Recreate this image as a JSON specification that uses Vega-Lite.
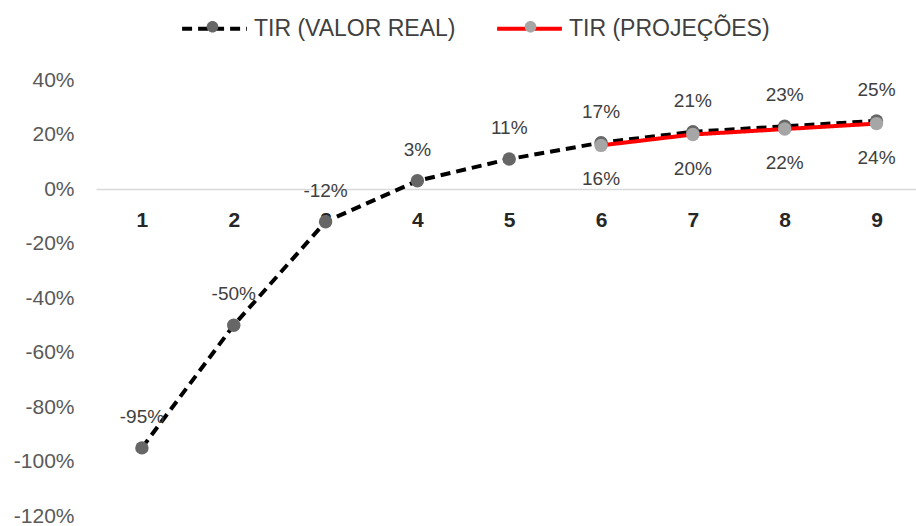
{
  "$schema": "https://vega.github.io/schema/vega-lite/v6.json",
  "autosize": {"type": "none"},
  "width": 820,
  "height": 436,
  "padding": {"left": 96, "top": 80, "right": 0, "bottom": 10},
  "background": "white",
  "config": {
    "view": {"stroke": null},
    "font": "Liberation Sans, Arial, sans-serif",
    "locale": {"number": {"decimal": ".", "thousands": ",", "grouping": [3], "currency": ["$", ""], "minus": "-", "percent": "%"}}
  },
  "data": {"values": [
    {"x": 1, "v": -0.95, "series": "TIR (VALOR REAL)"},
    {"x": 2, "v": -0.50, "series": "TIR (VALOR REAL)"},
    {"x": 3, "v": -0.12, "series": "TIR (VALOR REAL)"},
    {"x": 4, "v": 0.03, "series": "TIR (VALOR REAL)"},
    {"x": 5, "v": 0.11, "series": "TIR (VALOR REAL)"},
    {"x": 6, "v": 0.17, "series": "TIR (VALOR REAL)"},
    {"x": 7, "v": 0.21, "series": "TIR (VALOR REAL)"},
    {"x": 8, "v": 0.23, "series": "TIR (VALOR REAL)"},
    {"x": 9, "v": 0.25, "series": "TIR (VALOR REAL)"},
    {"x": 6, "v": 0.16, "series": "TIR (PROJEÇÕES)"},
    {"x": 7, "v": 0.20, "series": "TIR (PROJEÇÕES)"},
    {"x": 8, "v": 0.22, "series": "TIR (PROJEÇÕES)"},
    {"x": 9, "v": 0.24, "series": "TIR (PROJEÇÕES)"}
  ]},
  "encoding": {
    "x": {"field": "x", "type": "quantitative",
      "scale": {"domain": [0.5, 9.43], "nice": false, "zero": false},
      "axis": {"values": [1,2,3,4,5,6,7,8,9], "format": "d", "title": null, "grid": false, "ticks": false,
        "offset": -327, "domainColor": "#d9d9d9", "domainWidth": 1.5,
        "labelFontSize": 21, "labelFontWeight": "bold", "labelColor": "#262626", "labelPadding": 20}},
    "y": {"field": "v", "type": "quantitative",
      "scale": {"domain": [-1.2, 0.4], "nice": false},
      "axis": {"values": [-1.2,-1.0,-0.8,-0.6,-0.4,-0.2,0,0.2,0.4], "format": ".0%", "title": null, "grid": false,
        "ticks": false, "domain": false, "labelFontSize": 21, "labelColor": "#595959", "labelPadding": 22}}
  },
  "layer": [
    {
      "mark": {"type": "line", "strokeWidth": 4},
      "encoding": {
        "color": {"field": "series", "type": "nominal",
          "scale": {"domain": ["TIR (VALOR REAL)", "TIR (PROJEÇÕES)"], "range": ["#000000", "#ff0000"]},
          "legend": {"title": null, "orient": "none", "legendX": 84, "legendY": -86, "direction": "horizontal",
            "symbolType": "M-1,0 L1,0",
            "symbolSize": 4200, "symbolStrokeWidth": 4, "labelFontSize": 23, "labelColor": "#404040",
            "labelOffset": 5, "labelLimit": 0, "columnPadding": 33},
          "sort": ["TIR (VALOR REAL)", "TIR (PROJEÇÕES)"]},
        "strokeDash": {"field": "series", "type": "nominal",
          "scale": {"domain": ["TIR (VALOR REAL)", "TIR (PROJEÇÕES)"], "range": [[10, 6], [1, 0]]},
          "legend": null},
        "order": {"field": "x", "type": "quantitative"}
      }
    },
    {
      "mark": {"type": "circle", "size": 180, "opacity": 1},
      "encoding": {
        "fill": {"field": "series", "type": "nominal",
          "sort": ["TIR (VALOR REAL)", "TIR (PROJEÇÕES)"],
          "scale": {"range": ["#666666", "#a6a6a6"]},
          "legend": {"title": null, "orient": "none", "legendX": 84, "legendY": -86, "direction": "horizontal",
            "symbolType": "M0.18,0 A0.18,0.18 0 1 1 -0.18,0 A0.18,0.18 0 1 1 0.18,0 Z",
            "symbolSize": 4200, "symbolStrokeWidth": 0, "symbolOpacity": 1, "labelFontSize": 23,
            "labelExpr": "''", "labelOffset": 5, "labelLimit": 0, "columnPadding": 248}}
      }
    },
    {
      "transform": [{"filter": "datum.series === 'TIR (VALOR REAL)'"}],
      "mark": {"type": "text", "dy": -31, "fontSize": 19, "color": "#404040"},
      "encoding": {"text": {"field": "v", "type": "quantitative", "format": ".0%"}}
    },
    {
      "transform": [{"filter": "datum.series === 'TIR (PROJEÇÕES)'"}],
      "mark": {"type": "text", "dy": 34, "fontSize": 19, "color": "#404040"},
      "encoding": {"text": {"field": "v", "type": "quantitative", "format": ".0%"}}
    }
  ]
}
